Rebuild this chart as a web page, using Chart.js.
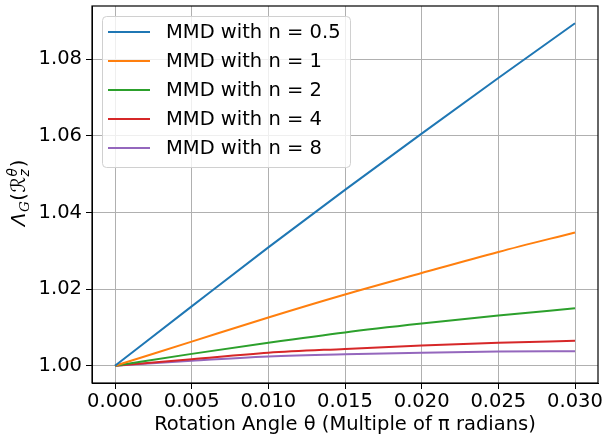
<!DOCTYPE html>
<html>
<head>
<meta charset="utf-8">
<script src="https://cdn.jsdelivr.net/npm/chart.js@4"></script>
<style>
  html, body { margin: 0; padding: 0; background: #fff; }
  #wrap { width: 607px; height: 437px; }
</style>
</head>
<body>
<div id="wrap"><canvas id="myChart" width="607" height="437"></canvas></div>
<script>
// rotation angle theta (multiples of pi)
const thetas = [0, 0.005, 0.010, 0.015, 0.020, 0.025, 0.030];

const mmdN05 = [1.0000, 1.0155, 1.0309, 1.0459, 1.0606, 1.0751, 1.0894];
const mmdN1  = [1.0000, 1.0063, 1.0126, 1.0186, 1.0242, 1.0297, 1.0348];
const mmdN2  = [1.0000, 1.0031, 1.0060, 1.0087, 1.0110, 1.0131, 1.0150];
const mmdN4  = [1.0000, 1.0017, 1.0034, 1.0044, 1.0053, 1.0060, 1.0065];
const mmdN8  = [1.0000, 1.0013, 1.0024, 1.0030, 1.0034, 1.0037, 1.0038];

const seriesLabels = ['MMD with n = 0.5', 'MMD with n = 1', 'MMD with n = 2', 'MMD with n = 4', 'MMD with n = 8'];
const seriesColors = ['#1f77b4', '#ff7f0e', '#2ca02c', '#d62728', '#9467bd'];

const xTicks = [0, 0.005, 0.010, 0.015, 0.020, 0.025, 0.030];
const yTicks = [1.00, 1.02, 1.04, 1.06, 1.08];

const FONT = '"DejaVu Sans", sans-serif';
const FS = 19.5;

const allSeries = [mmdN05, mmdN1, mmdN2, mmdN4, mmdN8];
const datasets = allSeries.map((vals, i) => ({
    label: seriesLabels[i],
    data: thetas.map((t, j) => ({x: t, y: vals[j]})),
    borderColor: seriesColors[i],
    backgroundColor: seriesColors[i],
    borderWidth: 2,
    pointRadius: 0,
    fill: false,
    cubicInterpolationMode: 'monotone'
}));

// legend box inside the plot, top left
const legendPlugin = {
    id: 'boxLegend',
    afterDraw(chart) {
        const ctx = chart.ctx;
        const a = chart.chartArea;
        const x0 = a.left + 10, y0 = a.top + 10, w = 248, h = 151, r = 4;
        ctx.save();
        ctx.beginPath();
        ctx.roundRect(x0 + 0.5, y0 + 0.5, w, h, r);
        ctx.fillStyle = 'rgba(255,255,255,0.8)';
        ctx.fill();
        ctx.strokeStyle = '#d0d0d0';
        ctx.lineWidth = 1;
        ctx.stroke();
        ctx.font = FS + 'px ' + FONT;
        ctx.textBaseline = 'middle';
        ctx.fillStyle = '#000';
        chart.data.datasets.forEach((ds, i) => {
            const cy = y0 + 16 + i * 29;
            ctx.beginPath();
            ctx.moveTo(x0 + 6, cy);
            ctx.lineTo(x0 + 48, cy);
            ctx.strokeStyle = ds.borderColor;
            ctx.lineWidth = 2;
            ctx.stroke();
            ctx.fillText(ds.label, x0 + 64, cy + 1);
        });
        ctx.restore();
    }
};

// frame + math y label
const framePlugin = {
    id: 'frame',
    afterDraw(chart) {
        const ctx = chart.ctx;
        const a = chart.chartArea;
        ctx.save();
        ctx.strokeStyle = '#000';
        ctx.lineWidth = 1.2;
        ctx.strokeRect(a.left, a.top, a.right - a.left, a.bottom - a.top);

        // y title: Λ_G(R_z^θ)
        const big = FS + 'px ' + FONT;
        const small = (FS * 0.7) + 'px ' + FONT;
        const parts = [
            {t: 'Λ', f: 'italic ' + big, dy: 0},
            {t: 'G', f: 'italic ' + (FS * 0.7) + 'px "DejaVu Serif", serif', dy: 4},
            {t: '(', f: big, dy: 0},
            {t: 'ℛ', f: big, dy: 0},
            {stack: [{t: 'z', f: 'italic ' + small, dy: 4}, {t: 'θ', f: 'italic ' + small, dy: -8}]},
            {t: ')', f: big, dy: 0}
        ];
        let total = 0;
        parts.forEach(p => {
            if (p.stack) {
                p.w = Math.max(...p.stack.map(s => { ctx.font = s.f; return ctx.measureText(s.t).width; })) + 1;
            } else {
                ctx.font = p.f;
                p.w = ctx.measureText(p.t).width + 0.5;
            }
            total += p.w;
        });
        ctx.translate(25, (a.top + a.bottom) / 2 - 2);
        ctx.rotate(-Math.PI / 2);
        ctx.fillStyle = '#000';
        ctx.textBaseline = 'alphabetic';
        let x = -total / 2;
        parts.forEach(p => {
            if (p.stack) {
                p.stack.forEach(s => { ctx.font = s.f; ctx.fillText(s.t, x, s.dy); });
            } else {
                ctx.font = p.f;
                ctx.fillText(p.t, x, p.dy);
            }
            x += p.w;
        });
        ctx.restore();
    }
};

const ctx = document.getElementById('myChart').getContext('2d');
const myChart = new Chart(ctx, {
    type: 'line',
    data: { datasets: datasets },
    options: {
        responsive: false,
        animation: false,
        layout: { padding: { top: 6, right: 9, left: 0, bottom: 0 } },
        plugins: {
            legend: { display: false },
            tooltip: { enabled: false }
        },
        scales: {
            x: {
                type: 'linear',
                min: -0.0015,
                max: 0.0315,
                afterBuildTicks: s => { s.ticks = xTicks.map(v => ({value: v})); },
                afterFit: s => { s.height = 54; s.paddingLeft = 0; s.paddingRight = 0; },
                ticks: {
                    color: '#000',
                    font: { family: FONT, size: FS },
                    padding: 1,
                    maxRotation: 0,
                    callback: v => Number(v).toFixed(3)
                },
                grid: { color: '#b0b0b0', lineWidth: 1, tickColor: '#000', tickLength: 6 },
                border: { color: '#000', width: 1 },
                title: {
                    display: true,
                    text: 'Rotation Angle θ (Multiple of π radians)',
                    color: '#000',
                    font: { family: FONT, size: FS },
                    padding: { top: 6, bottom: 0 }
                }
            },
            y: {
                type: 'linear',
                min: 0.9955,
                max: 1.0939,
                afterBuildTicks: s => { s.ticks = yTicks.map(v => ({value: v})); },
                afterFit: s => { s.width = 92; s.paddingTop = 0; s.paddingBottom = 0; },
                ticks: {
                    color: '#000',
                    font: { family: FONT, size: FS },
                    padding: 4,
                    callback: v => Number(v).toFixed(2)
                },
                grid: { color: '#b0b0b0', lineWidth: 1, tickColor: '#000', tickLength: 6 },
                border: { color: '#000', width: 1 }
            }
        }
    },
    plugins: [legendPlugin, framePlugin]
});
</script>
</body>
</html>
